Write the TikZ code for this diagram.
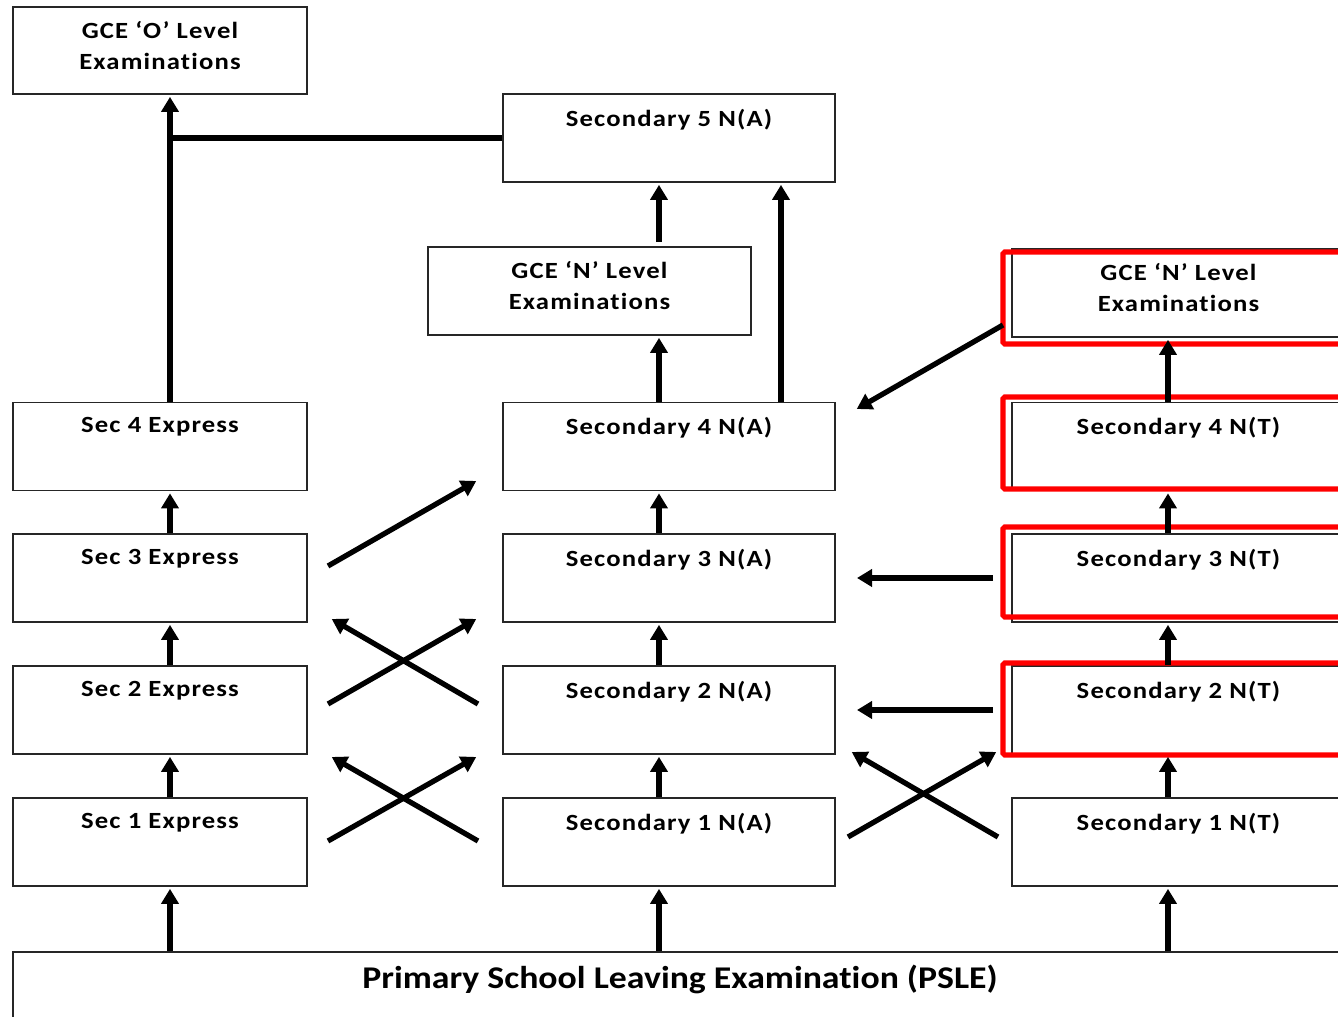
\documentclass[tikz,border=0pt]{standalone}
\usepackage{fontspec}
\setmainfont{Carlito}
\newfontfamily\bxfont[LetterSpace=5, FakeStretch=1.15, Ligatures={NoCommon}]{Carlito}
\newfontfamily\psfont[FakeStretch=1.13, Ligatures={NoCommon}]{Carlito}
\usetikzlibrary{arrows.meta}
\begin{document}
\begin{tikzpicture}[
  box/.style={draw=black!85, line width=0.5pt, fill=white, minimum height=0.88cm, inner sep=0pt},
  lbox/.style={box, minimum width=2.94cm},
  mbox/.style={box, minimum width=3.32cm},
  rbox/.style={box, minimum width=3.33cm},
  redbox/.style={draw=red, line width=1.45pt, rounded corners=0.5pt},
  txt/.style={anchor=north, inner sep=0pt, align=center, font=\bxfont\bfseries\fontsize{6.6}{8.8}\selectfont},
  up/.style={line width=1.5pt, -{Triangle[width=0.17cm,length=0.15cm]}, shorten >=0.02cm},
  plain/.style={line width=1.5pt}
]
\useasboundingbox (0,0) rectangle (13.38,-10.17);
\clip (0,0) rectangle (13.38,-10.17);

% left column
\node[lbox, minimum height=0.87cm] (gceO) at (1.60,-0.505) {};
\node[lbox] (s4e) at (1.60,-4.465) {};
\node[lbox] (s3e) at (1.60,-5.78) {};
\node[lbox] (s2e) at (1.60,-7.10) {};
\node[lbox] (s1e) at (1.60,-8.42) {};
% middle column
\node[mbox] (s5m) at (6.69,-1.38) {};
\node[box, minimum width=3.23cm] (gceNm) at (5.895,-2.91) {};
\node[mbox] (s4m) at (6.69,-4.465) {};
\node[mbox] (s3m) at (6.69,-5.78) {};
\node[mbox] (s2m) at (6.69,-7.10) {};
\node[mbox] (s1m) at (6.69,-8.42) {};
% right column
\node[rbox] (gceNr) at (11.785,-2.93) {};
\node[rbox] (s4r) at (11.785,-4.465) {};
\node[rbox] (s3r) at (11.785,-5.78) {};
\node[rbox] (s2r) at (11.785,-7.10) {};
\node[rbox] (s1r) at (11.785,-8.42) {};
% PSLE
\node[box, minimum width=13.32cm, minimum height=0.80cm] (psle) at (6.79,-9.92) {};

% red highlight boxes
\draw[redbox] (10.03,-2.52) rectangle (13.60,-3.44);
\draw[redbox] (10.03,-3.97) rectangle (13.60,-4.89);
\draw[redbox] (10.03,-5.27) rectangle (13.60,-6.17);
\draw[redbox] (10.03,-6.63) rectangle (13.60,-7.55);

% texts
\node[txt] (tgceO) at ([yshift=-0.15cm]gceO.north) {GCE ‘O’ Level\\Examinations};
\node[txt] (ts4e) at ([yshift=-0.15cm]s4e.north) {Sec 4 Express};
\node[txt] (ts3e) at ([yshift=-0.15cm]s3e.north) {Sec 3 Express};
\node[txt] (ts2e) at ([yshift=-0.15cm]s2e.north) {Sec 2 Express};
\node[txt] (ts1e) at ([yshift=-0.15cm]s1e.north) {Sec 1 Express};
\node[txt] (ts5m) at ([yshift=-0.15cm]s5m.north) {Secondary 5 N(A)};
\node[txt] (tgceNm) at ([yshift=-0.15cm]gceNm.north) {GCE ‘N’ Level\\Examinations};
\node[txt] (ts4m) at ([yshift=-0.15cm]s4m.north) {Secondary 4 N(A)};
\node[txt] (ts3m) at ([yshift=-0.15cm]s3m.north) {Secondary 3 N(A)};
\node[txt] (ts2m) at ([yshift=-0.15cm]s2m.north) {Secondary 2 N(A)};
\node[txt] (ts1m) at ([yshift=-0.15cm]s1m.north) {Secondary 1 N(A)};
\node[txt] (tgceNr) at ([yshift=-0.15cm]gceNr.north) {GCE ‘N’ Level\\Examinations};
\node[txt] (ts4r) at ([yshift=-0.15cm]s4r.north) {Secondary 4 N(T)};
\node[txt] (ts3r) at ([yshift=-0.15cm]s3r.north) {Secondary 3 N(T)};
\node[txt] (ts2r) at ([yshift=-0.15cm]s2r.north) {Secondary 2 N(T)};
\node[txt] (ts1r) at ([yshift=-0.15cm]s1r.north) {Secondary 1 N(T)};
\node[anchor=center, inner sep=0pt, font=\psfont\bfseries\fontsize{9}{10}\selectfont] (tpsle) at (6.80,-9.79) {Primary School Leaving Examination (PSLE)};

% vertical arrows, left column
\draw[up] (psle.north -| 1.70,0) -- (s1e.south -| 1.70,0);
\draw[up] (s1e.north -| 1.70,0) -- (s2e.south -| 1.70,0);
\draw[up] (s2e.north -| 1.70,0) -- (s3e.south -| 1.70,0);
\draw[up] (s3e.north -| 1.70,0) -- (s4e.south -| 1.70,0);
\draw[up] (s4e.north -| 1.70,0) -- (gceO.south -| 1.70,0);
\draw[plain] (s5m.west) -- (s5m.west -| 1.70,0);
% middle column
\draw[up] (psle.north -| 6.59,0) -- (s1m.south -| 6.59,0);
\draw[up] (s1m.north -| 6.59,0) -- (s2m.south -| 6.59,0);
\draw[up] (s2m.north -| 6.59,0) -- (s3m.south -| 6.59,0);
\draw[up] (s3m.north -| 6.59,0) -- (s4m.south -| 6.59,0);
\draw[up] (s4m.north -| 6.59,0) -- (gceNm.south -| 6.59,0);
\draw[up] ([yshift=0.04cm]gceNm.north -| 6.59,0) -- (s5m.south -| 6.59,0);
\draw[up] (s4m.north -| 7.81,0) -- (s5m.south -| 7.81,0);
% right column
\draw[up] (psle.north -| 11.68,0) -- (s1r.south -| 11.68,0);
\draw[up] (s1r.north -| 11.68,0) -- (s2r.south -| 11.68,0);
\draw[up] (s2r.north -| 11.68,0) -- (s3r.south -| 11.68,0);
\draw[up] (s3r.north -| 11.68,0) -- (s4r.south -| 11.68,0);
\draw[up] (s4r.north -| 11.68,0) -- (gceNr.south -| 11.68,0);

% free connector ends
\coordinate (dA) at (10.03,-3.25);
\coordinate (dB) at (8.55,-4.10);
\coordinate (h3a) at (9.93,-5.78);
\coordinate (h3b) at (8.55,-5.78);
\coordinate (h2a) at (9.93,-7.10);
\coordinate (h2b) at (8.55,-7.10);
\coordinate (e3a) at (3.28,-5.66);
\coordinate (e3b) at (4.78,-4.80);
\coordinate (x1a) at (3.28,-7.04);
\coordinate (x1b) at (4.78,-6.18);
\coordinate (x1c) at (4.78,-7.04);
\coordinate (x1d) at (3.30,-6.18);
\coordinate (x2a) at (3.28,-8.41);
\coordinate (x2b) at (4.78,-7.56);
\coordinate (x2c) at (4.78,-8.41);
\coordinate (x2d) at (3.30,-7.56);
\coordinate (x3a) at (8.48,-8.37);
\coordinate (x3b) at (9.98,-7.51);
\coordinate (x3c) at (9.98,-8.37);
\coordinate (x3d) at (8.50,-7.51);

\draw[up] (dA) -- (dB);
\draw[up] (h3a) -- (h3b);
\draw[up] (h2a) -- (h2b);
\draw[up] (e3a) -- (e3b);
\draw[up] (x1a) -- (x1b);
\draw[up] (x1c) -- (x1d);
\draw[up] (x2a) -- (x2b);
\draw[up] (x2c) -- (x2d);
\draw[up] (x3a) -- (x3b);
\draw[up] (x3c) -- (x3d);
\end{tikzpicture}
\end{document}
